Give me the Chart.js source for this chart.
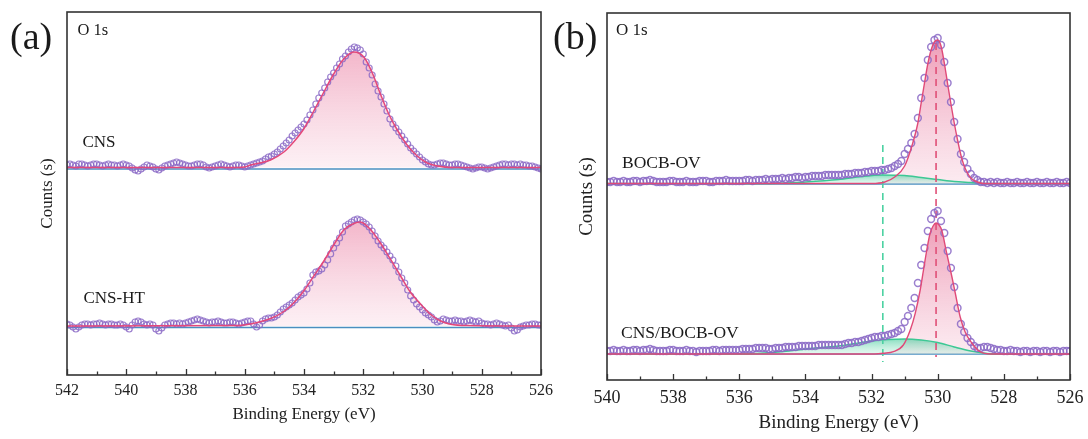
<!DOCTYPE html>
<html>
<head>
<meta charset="utf-8">
<script src="https://cdn.jsdelivr.net/npm/chart.js@4.4.1/dist/chart.umd.min.js"></script>
<style>
  html, body { margin: 0; padding: 0; background: #fff; }
  body { width: 1088px; height: 439px; position: relative; overflow: hidden; }
  .panel { position: absolute; top: 0; height: 439px; }
  #wrapA { left: 0; width: 560px; }
  #wrapB { left: 540px; width: 548px; }
  .tag { position: absolute; font-family: "Liberation Serif", serif; color: #1a1a1a; line-height: 1; white-space: nowrap; }
</style>
</head>
<body>
<div class="panel" id="wrapA"><canvas id="chartA" width="560" height="439"></canvas></div>
<div class="panel" id="wrapB"><canvas id="chartB" width="548" height="439"></canvas></div>

<div class="tag" style="left:10px;top:16.7px;font-size:38px">(a)</div>
<div class="tag" style="left:553px;top:16.7px;font-size:38px">(b)</div>
<div class="tag" style="left:77.5px;top:21.5px;font-size:16.5px">O 1s</div>
<div class="tag" style="left:616px;top:20.8px;font-size:17px">O 1s</div>
<div class="tag" style="left:82.5px;top:132.5px;font-size:17px">CNS</div>
<div class="tag" style="left:83.5px;top:289px;font-size:17px">CNS-HT</div>
<div class="tag" style="left:622px;top:153.6px;font-size:17.5px">BOCB-OV</div>
<div class="tag" style="left:621px;top:323.6px;font-size:17.5px">CNS/BOCB-OV</div>

<script>
/* ===== DATA : panel (a) ===== */
// measured every 0.1 eV, 542.0 -> 526.0
const energyA = Array.from({length: 161}, (_, i) => +(542 - i * 0.1).toFixed(1));
const majorTicksA = [542, 540, 538, 536, 534, 532, 530, 528, 526];
const minorTicksA = [541, 539, 537, 535, 533, 531, 529, 527];

const cnsRaw = [
  210,211,210,209,211,211,210,209,210,211,
  211,210,209,210,211,210,210,209,210,211,
  210,209,207,205,204,206,208,210,209,208,
  206,205,207,209,210,211,212,213,212,211,
  210,209,209,210,211,211,210,208,207,208,
  209,210,211,210,209,208,209,210,210,209,
  208,209,210,211,212,213,214,216,218,219,
  221,223,226,229,232,235,239,242,245,248,
  251,255,260,265,271,277,282,287,293,298,
  302,307,311,316,319,323,326,328,327,325,
  321,313,307,300,291,284,278,271,264,256,
  251,247,243,239,235,231,227,224,221,218,
  215,213,211,210,210,211,212,212,211,210,
  210,211,211,210,209,208,207,206,207,208,
  208,207,206,207,208,209,210,211,211,210,
  211,211,210,211,210,210,209,209,208,207,
  206
];
const cnsHtRaw = [
  51,50,48,46,48,50,51,51,50,51,
  51,52,51,50,51,51,50,50,51,50,
  48,46,50,53,54,53,51,50,51,50,
  46,44,47,50,51,52,52,51,52,51,
  52,53,54,55,56,55,54,53,52,53,
  53,54,53,52,52,53,53,52,51,52,
  53,54,54,51,48,50,54,56,57,57,
  58,60,63,66,68,70,72,75,78,80,
  82,86,92,100,103,104,106,110,115,121,
  127,132,137,143,149,151,153,155,156,155,
  153,151,148,144,139,134,130,127,123,119,
  115,109,103,97,92,85,79,75,71,68,
  65,62,60,58,55,53,54,56,55,54,
  54,55,54,54,53,54,55,54,53,54,
  52,51,51,50,51,52,51,50,49,50,
  47,44,45,48,49,50,50,51,51,50,
  50
];

const cnsFitE = [542, 536.5, 536.0, 535.8, 535.13, 534.68, 534.35, 534.01, 533.67, 533.33, 533.0, 532.66, 532.32, 531.98, 531.7, 531.42, 531.14, 530.85, 530.52, 530.18, 529.84, 529.5, 529.0, 526];
const cnsFitV = [207.5, 207.5, 208, 210, 215, 223, 233, 246, 264, 283, 301, 316, 323, 318, 302.5, 281, 261, 245, 230, 219, 212, 209, 207.5, 207.5];
const cnsHtFitE = [542, 536.2, 535.81, 535.13, 534.68, 534.35, 534.01, 533.67, 533.33, 533.0, 532.66, 532.32, 532.1, 531.77, 531.43, 531.08, 530.74, 530.4, 530.06, 529.73, 529.39, 529.05, 528.5, 526];
const cnsHtFitV = [49, 49.5, 51, 56.5, 63.5, 72, 84, 99, 114, 130, 145, 151.5, 153, 146, 132.5, 115.8, 99, 82.5, 70.8, 60.8, 54, 50.8, 49.5, 49];
const bgEA = [542, 526];
const cnsBgV = [206, 206];
const cnsHtBgV = [47.5, 47.5];

/* ===== DATA : panel (b) ===== */
// measured every 0.1 eV, 540.0 -> 526.0
const energyB = Array.from({length: 141}, (_, i) => +(540 - i * 0.1).toFixed(1));
const majorTicksB = [540, 538, 536, 534, 532, 530, 528, 526];
const minorTicksB = [539, 537, 535, 533, 531, 529, 527];

const bocbRaw = [
  198,198,199,198,198,199,198,198,199,199,
  198,199,199,200,199,198,198,198,198,199,
  199,198,198,198,199,198,198,198,199,199,
  199,198,198,199,199,199,200,199,199,199,
  199,199,200,200,199,200,200,200,201,200,
  201,201,201,202,201,202,202,203,203,202,
  203,203,204,204,204,204,205,205,205,205,
  205,205,206,206,206,207,207,207,208,208,
  209,209,209,210,210,211,212,214,216,219,
  226,231,237,246,262,282,302,320,333,340,
  342,335,318,297,278,258,241,226,218,211,
  206,202,200,198,198,197,198,197,198,197,
  197,198,197,197,198,197,197,198,197,197,
  198,197,197,198,197,197,198,197,197,198,
  197
];
const cnsBocbRaw = [
  29,29,30,29,29,30,29,29,30,30,
  29,30,30,31,30,29,29,29,29,30,
  30,29,29,29,30,29,29,28,29,29,
  29,29,30,30,29,30,30,30,30,30,
  30,31,31,31,31,32,32,32,32,31,
  31,32,32,32,33,33,33,33,34,34,
  34,34,34,34,35,35,35,35,35,35,
  35,35,36,37,37,38,38,39,40,41,
  42,43,43,44,44,45,46,47,49,51,
  58,64,72,82,97,115,132,149,161,167,
  169,159,147,129,112,93,72,56,48,42,
  38,34,32,32,33,33,32,31,30,30,
  29,29,30,29,29,28,29,29,28,29,
  29,28,29,29,28,29,29,28,29,29,
  29
];

const bocbRedE = [540, 532.0, 531.6, 531.3, 531.0, 530.8, 530.6, 530.5, 530.4, 530.3, 530.2, 530.1, 530.0, 529.9, 529.8, 529.7, 529.6, 529.5, 529.4, 529.3, 529.2, 529.1, 529.0, 528.8, 528.6, 526];
const bocbRedV = [196.5, 196.5, 198, 203, 214, 232, 257, 277, 297, 316, 330, 338, 340, 334, 317, 296, 276, 257, 240, 225, 214, 207, 202, 198, 196.5, 196.5];
const bocbGreenE = [540, 535, 534, 533, 532.3, 531.7, 531.0, 530.5, 530.0, 529.5, 529.0, 528.5, 526];
const bocbGreenV = [196.5, 196.5, 198, 200.5, 203.5, 205, 204.5, 202.5, 200.5, 198.5, 197.5, 196.5, 196.5];

const cnsBocbRedE = [540, 531.9, 531.64, 531.34, 531.04, 530.83, 530.68, 530.53, 530.43, 530.33, 530.23, 530.14, 530.05, 529.96, 529.88, 529.73, 529.57, 529.47, 529.32, 529.17, 528.97, 528.72, 528.4, 526];
const cnsBocbRedV = [26, 26, 26.7, 28.3, 35, 50, 66.7, 90, 110, 130, 146.7, 154, 157, 155, 150, 127, 103, 87, 63, 48, 37, 28.3, 26, 26];
const cnsBocbGreenE = [540, 536, 535.5, 535, 534.5, 534, 533.5, 533, 532.5, 532, 531.5, 531, 530.5, 530, 529.5, 529, 528.5, 528, 526];
const cnsBocbGreenV = [26, 26, 26.5, 27.5, 29, 31, 32.5, 34, 36.5, 39, 40.5, 41, 40, 37.5, 33, 29, 26.5, 26, 26];

const bgEB = [540, 526];
const bocbBgV = [196, 196];
const cnsBocbBgV = [26, 26];

const redDashE = [530.05, 530.05];
const redDashV = [337, 23];
const greenDashE = [531.66, 531.66];
const greenDashV = [235, 18];

/* ===== STYLE ===== */
const serif = "Liberation Serif";
const purple = "rgba(138,104,198,0.85)";
const bgBlue = "#4a8fc0";

const pts = (xs, ys) => xs.map((x, i) => ({x: x, y: ys[i]}));

function gradFill(top, bottom, vTop, vBase) {
    return (ctx) => {
        const chart = ctx.chart;
        const y = chart.scales.y;
        if (!chart.chartArea || !y) return bottom;
        const g = chart.ctx.createLinearGradient(0, y.getPixelForValue(vTop), 0, y.getPixelForValue(vBase));
        g.addColorStop(0, top);
        g.addColorStop(1, bottom);
        return g;
    };
}

// box frame + inward ticks on the bottom axis
function framePlugin(major, minor) {
    return {
        id: "frame",
        afterDraw(chart) {
            const {ctx, chartArea: a, scales: {x}} = chart;
            ctx.save();
            ctx.strokeStyle = "#333";
            ctx.lineWidth = 1.6;
            ctx.strokeRect(a.left, a.top, a.right - a.left, a.bottom - a.top);
            ctx.lineWidth = 1.3;
            major.forEach(v => {
                const px = Math.round(x.getPixelForValue(v)) + 0.5;
                ctx.beginPath(); ctx.moveTo(px, a.bottom); ctx.lineTo(px, a.bottom - 6); ctx.stroke();
            });
            minor.forEach(v => {
                const px = Math.round(x.getPixelForValue(v)) + 0.5;
                ctx.beginPath(); ctx.moveTo(px, a.bottom); ctx.lineTo(px, a.bottom - 3.5); ctx.stroke();
            });
            ctx.restore();
        }
    };
}

function rawSet(xs, ys, r, w) {
    return {
        data: pts(xs, ys), showLine: false, order: 2,
        pointRadius: r, pointBorderWidth: w,
        pointBorderColor: purple, pointBackgroundColor: "rgba(255,255,255,0)"
    };
}
function lineSet(xs, ys, color, width, order, extra) {
    return Object.assign({
        data: pts(xs, ys), showLine: true, order: order,
        borderColor: color, borderWidth: width, pointRadius: 0,
        cubicInterpolationMode: "monotone", fill: false
    }, extra || {});
}
// filled area only (the outline is drawn separately above the points)
function areaSet(xs, ys, order, top, bottom) {
    return lineSet(xs, ys, "rgba(0,0,0,0)", 0, order, {
        fill: {value: ys[0]},
        backgroundColor: gradFill(top, bottom, Math.max(...ys), ys[0])
    });
}

function makeOptions(cfg) {
    return {
        responsive: false, animation: false, devicePixelRatio: 1,
        layout: {autoPadding: false, padding: {left: 0, top: cfg.top, right: cfg.right, bottom: 0}},
        plugins: {legend: {display: false}, tooltip: {enabled: false}},
        scales: {
            x: {
                type: "linear", min: cfg.xMin, max: cfg.xMax, reverse: true,
                grid: {display: false, drawTicks: false},
                border: {display: false},
                afterBuildTicks: s => { s.ticks = cfg.major.map(v => ({value: v})); },
                ticks: {color: "#222", font: {family: serif, size: cfg.tickSize}, padding: cfg.tickPad, maxRotation: 0, autoSkip: false},
                title: {display: true, text: "Binding Energy (eV)", color: "#222", font: {family: serif, size: cfg.titleSize}, padding: {top: 0, bottom: cfg.titlePad}},
                afterFit: s => { s.height = cfg.xHeight; s.paddingLeft = 0; s.paddingRight = 0; }
            },
            y: {
                min: 0, max: cfg.yMax,
                grid: {display: false, drawTicks: false},
                border: {display: false},
                ticks: {display: false},
                title: {display: true, text: "Counts (s)", color: "#222", font: {family: serif, size: cfg.titleSize}, padding: {top: cfg.yTitlePad, bottom: 0}},
                afterFit: s => { s.width = 67; s.paddingTop = 0; s.paddingBottom = 0; }
            }
        }
    };
}

/* ===== PANEL (a) ===== */
const pinkTopA = "rgba(236,138,170,0.62)";
const pinkBotA = "rgba(250,222,232,0.45)";
const redA = "#e4487a";
new Chart(document.getElementById("chartA"), {
    type: "scatter",
    data: {
        datasets: [
            lineSet(cnsFitE, cnsFitV, redA, 1.5, 1),
            lineSet(cnsHtFitE, cnsHtFitV, redA, 1.5, 1),
            rawSet(energyA, cnsRaw, 3, 1.2),
            rawSet(energyA, cnsHtRaw, 3, 1.2),
            areaSet(cnsFitE, cnsFitV, 3, pinkTopA, pinkBotA),
            areaSet(cnsHtFitE, cnsHtFitV, 3, pinkTopA, pinkBotA),
            lineSet(bgEA, cnsBgV, bgBlue, 1.5, 4),
            lineSet(bgEA, cnsHtBgV, bgBlue, 1.5, 4)
        ]
    },
    options: makeOptions({
        top: 12, right: 19, xMin: 526, xMax: 542, yMax: 363,
        major: majorTicksA, tickSize: 16, tickPad: 6, titleSize: 17, titlePad: 14,
        xHeight: 64, yTitlePad: 37
    }),
    plugins: [framePlugin(majorTicksA, minorTicksA)]
});

/* ===== PANEL (b) ===== */
const pinkTopB = "rgba(228,98,140,0.62)";
const pinkBotB = "rgba(247,205,220,0.4)";
const greenTop = "rgba(60,200,150,0.6)";
const greenBot = "rgba(170,235,210,0.3)";
const redB = "#e04a78";
const greenB = "#3cc894";
new Chart(document.getElementById("chartB"), {
    type: "scatter",
    data: {
        datasets: [
            lineSet(bocbRedE, bocbRedV, redB, 1.4, 1),
            lineSet(cnsBocbRedE, cnsBocbRedV, redB, 1.4, 1),
            rawSet(energyB, bocbRaw, 3.4, 1.5),
            rawSet(energyB, cnsBocbRaw, 3.4, 1.5),
            lineSet(redDashE, redDashV, "#e05078", 1.6, 3, {borderDash: [7, 5], cubicInterpolationMode: "default"}),
            lineSet(greenDashE, greenDashV, "#4cd2a2", 1.6, 3, {borderDash: [7, 5], cubicInterpolationMode: "default"}),
            lineSet(bocbGreenE, bocbGreenV, greenB, 1.5, 4),
            lineSet(cnsBocbGreenE, cnsBocbGreenV, greenB, 1.5, 4),
            areaSet(bocbGreenE, bocbGreenV, 5, greenTop, greenBot),
            areaSet(cnsBocbGreenE, cnsBocbGreenV, 5, greenTop, greenBot),
            areaSet(bocbRedE, bocbRedV, 6, pinkTopB, pinkBotB),
            areaSet(cnsBocbRedE, cnsBocbRedV, 6, pinkTopB, pinkBotB),
            lineSet(bgEB, bocbBgV, bgBlue, 1.6, 7),
            lineSet(bgEB, cnsBocbBgV, bgBlue, 1.6, 7)
        ]
    },
    options: makeOptions({
        top: 13, right: 18, xMin: 526, xMax: 540, yMax: 367,
        major: majorTicksB, tickSize: 18, tickPad: 7, titleSize: 19, titlePad: 5,
        xHeight: 59, yTitlePad: 35.6
    }),
    plugins: [framePlugin(majorTicksB, minorTicksB)]
});
</script>
</body>
</html>
